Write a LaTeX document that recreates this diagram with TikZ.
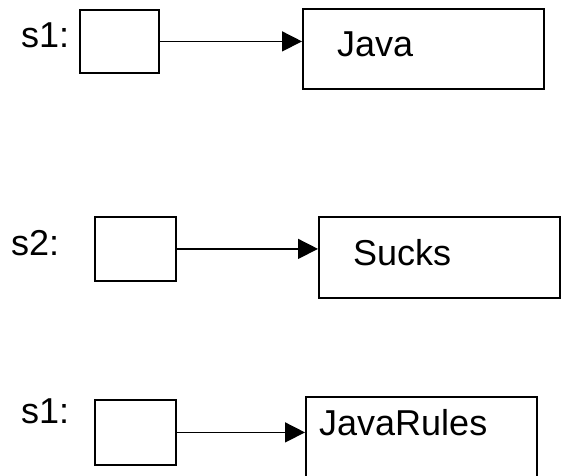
\documentclass[tikz,border=0pt]{standalone}
\usepackage{fontspec}
\setmainfont{Liberation Sans}
\usetikzlibrary{arrows.meta}
\begin{document}
\begin{tikzpicture}[x=1pt,y=-1pt,
  refbox/.style={draw, line width=1.8pt, anchor=north west, inner sep=0pt, fill=white},
  word/.style={anchor=base west, inner sep=0pt, font=\fontsize{36}{36}\selectfont},
  pointer/.style={line width=1.5pt, -{Triangle[length=20pt,width=20pt]}}]
\useasboundingbox (0,0) rectangle (561,475);
\clip (0,0) rectangle (561,475);

% first reference s1 -> "Java"
\node[word] (lab1) at (21,47) {s1:};
\node[refbox, minimum width=79pt, minimum height=63pt] (ref1) at (79,9) {};
\node[refbox, minimum width=241pt, minimum height=80pt] (str1) at (302,8) {};
\node[word] (txt1) at (337,56) {Java};
\draw[pointer] (ref1.east) -- (ref1.east -| str1.west);

% s2 -> "Sucks"
\node[word] (lab2) at (11,255) {s2:};
\node[refbox, minimum width=81pt, minimum height=64pt] (ref2) at (94,216) {};
\node[refbox, minimum width=241pt, minimum height=81pt] (str2) at (318,216) {};
\node[word] (txt2) at (353,265) {Sucks};
\draw[pointer] (ref2.east) -- (ref2.east -| str2.west);

% s1 -> "JavaRules"
\node[word] (lab3) at (21,423) {s1:};
\node[refbox, minimum width=81pt, minimum height=65pt] (ref3) at (94,399) {};
\node[refbox, minimum width=231pt, minimum height=110pt] (str3) at (305,396) {};
\node[word] (txt3) at (319,435) {JavaRules};
\draw[pointer] (ref3.east) -- (ref3.east -| str3.west);
\end{tikzpicture}
\end{document}
